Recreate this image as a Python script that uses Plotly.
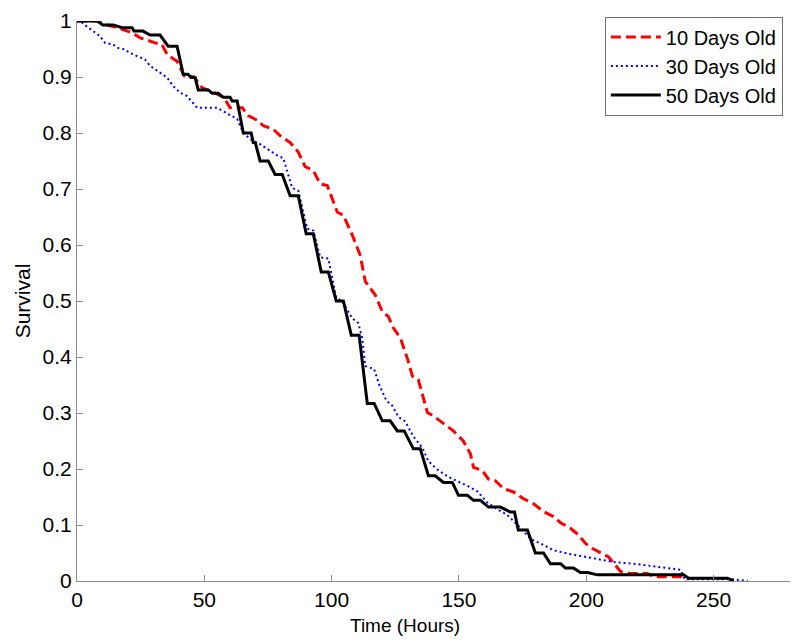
import plotly.graph_objects as go

# ---- data (time in hours, survival fraction) ----
t10 = [0, 7.9, 11.0, 15.7, 21.6, 24.8, 30.7, 33.4, 35.4, 39.3, 42.1, 46.0, 49.1, 53.9, 57.8,
       60.1, 64.9, 67.2, 71.1, 73.1, 77.0, 79.8, 83.7, 86.9, 89.6, 92.8, 95.5, 98.3, 102.2, 104.6,
       108.1, 111.2, 113.2, 115.2, 117.1, 119.9, 122.3, 124.2, 127.0, 129.7, 131.7, 134.0, 137.6,
       139.9, 143.9, 147.8, 151.7, 154.5, 155.7, 159.2, 161.6, 164.3, 167.5, 171.4, 175.3, 179.3,
       183.2, 187.1, 189.9, 193.8, 197.0, 199.7, 202.5, 206.4, 208.7, 211.5, 213.4, 217.3, 224.0,
       226.4, 237.0, 239.0]
s10 = [1.0, 1.0, 0.994, 0.988, 0.979, 0.970, 0.961, 0.958, 0.940, 0.928, 0.902, 0.900, 0.881,
       0.872, 0.863, 0.845, 0.845, 0.831, 0.822, 0.813, 0.807, 0.795, 0.783, 0.766, 0.740, 0.733,
       0.709, 0.706, 0.659, 0.653, 0.618, 0.582, 0.535, 0.523, 0.511, 0.481, 0.472, 0.452, 0.434,
       0.398, 0.366, 0.360, 0.301, 0.295, 0.282, 0.268, 0.250, 0.227, 0.203, 0.197, 0.182, 0.179,
       0.165, 0.159, 0.147, 0.138, 0.124, 0.115, 0.104, 0.094, 0.082, 0.067, 0.058, 0.049, 0.043,
       0.028, 0.017, 0.0136, 0.0136, 0.0076, 0.0076, 0.0]

t30 = [0, 1.2, 3.9, 6.3, 9.0, 11.0, 14.2, 16.1, 18.9, 20.8, 24.0, 26.7, 28.7, 31.4, 35.4, 37.7,
       40.5, 43.2, 45.6, 47.2, 55.0, 59.0, 62.9, 65.3, 69.2, 71.9, 75.1, 78.6, 81.0, 83.0, 84.5,
       86.9, 88.4, 90.4, 92.8, 95.5, 98.7, 100.6, 101.8, 104.2, 108.1, 110.4, 112.0, 113.2, 116.7,
       118.7, 121.5, 123.8, 126.2, 128.9, 132.1, 135.6, 138.0, 141.5, 145.4, 149.4, 153.3, 157.2,
       161.2, 165.1, 169.0, 174.1, 178.1, 182.0, 187.1, 192.6, 200.5, 206.8, 210.7, 220.1, 229.2,
       237.0, 238.6, 257.9, 263.4]
s30 = [1.0, 1.0, 0.990, 0.982, 0.973, 0.961, 0.958, 0.952, 0.949, 0.943, 0.937, 0.931, 0.920,
       0.911, 0.899, 0.884, 0.872, 0.866, 0.854, 0.845, 0.845, 0.835, 0.825, 0.800, 0.785, 0.780,
       0.770, 0.760, 0.755, 0.725, 0.702, 0.697, 0.670, 0.629, 0.626, 0.578, 0.576, 0.535, 0.506,
       0.499, 0.469, 0.461, 0.434, 0.384, 0.378, 0.350, 0.322, 0.313, 0.293, 0.285, 0.258, 0.238,
       0.214, 0.199, 0.187, 0.178, 0.170, 0.160, 0.140, 0.128, 0.118, 0.095, 0.075, 0.067, 0.055,
       0.049, 0.043, 0.037, 0.034, 0.030, 0.025, 0.020, 0.003, 0.003, 0.0]

t50 = [0, 7.9, 10.2, 14.2, 17.7, 21.6, 22.4, 25.9, 28.7, 32.6, 35.8, 39.3, 41.7, 43.6, 44.8, 46.4,
       47.6, 51.5, 53.1, 55.4, 57.4, 60.1, 60.9, 62.9, 65.3, 68.4, 69.2, 70.0, 71.9, 75.1, 77.8,
       80.6, 83.7, 86.9, 90.0, 92.8, 95.9, 98.7, 101.8, 104.6, 107.7, 110.8, 114.0, 116.7, 119.9,
       123.0, 125.8, 128.5, 132.1, 134.8, 138.0, 140.7, 143.9, 147.4, 149.8, 153.3, 155.7, 158.4,
       161.6, 166.3, 170.2, 171.8, 173.3, 176.9, 180.0, 183.2, 185.9, 189.9, 191.8, 195.0, 197.7,
       200.5, 204.4, 238.2, 240.2, 255.5, 257.9]
s50 = [1.0, 1.0, 0.993, 0.993, 0.988, 0.988, 0.982, 0.982, 0.975, 0.975, 0.955, 0.955, 0.905,
       0.905, 0.899, 0.899, 0.877, 0.877, 0.871, 0.871, 0.864, 0.864, 0.857, 0.857, 0.800, 0.800,
       0.783, 0.783, 0.750, 0.750, 0.726, 0.726, 0.688, 0.688, 0.620, 0.620, 0.552, 0.552, 0.500,
       0.500, 0.439, 0.439, 0.317, 0.317, 0.286, 0.286, 0.268, 0.268, 0.236, 0.236, 0.188, 0.188,
       0.176, 0.176, 0.153, 0.153, 0.144, 0.144, 0.132, 0.132, 0.123, 0.123, 0.091, 0.091, 0.050,
       0.050, 0.031, 0.031, 0.023, 0.023, 0.015, 0.015, 0.011, 0.011, 0.005, 0.005, 0.0]

series_names = ["10 Days Old", "30 Days Old", "50 Days Old"]
x_ticks = [0, 50, 100, 150, 200, 250]
y_ticks = [0, 0.1, 0.2, 0.3, 0.4, 0.5, 0.6, 0.7, 0.8, 0.9, 1]
y_tick_labels = ["0", "0.1", "0.2", "0.3", "0.4", "0.5", "0.6", "0.7", "0.8", "0.9", "1"]

FONT = "Liberation Sans, Arial, Helvetica, sans-serif"
AXIS_GRAY = "#8c8c8c"

fig = go.Figure()
fig.add_trace(go.Scatter(x=t10, y=s10, mode="lines", name=series_names[0],
                         line=dict(color="#ff0000", width=3, dash="10px,5px")))
fig.add_trace(go.Scatter(x=t30, y=s30, mode="lines", name=series_names[1],
                         line=dict(color="#0000ff", width=2, dash="2px,3px")))
fig.add_trace(go.Scatter(x=t50, y=s50, mode="lines", name=series_names[2],
                         line=dict(color="#000000", width=3)))

# the page adds an 8px body margin, so the figure is 8px smaller than the window
fig.update_layout(
    width=792, height=636,
    margin=dict(l=69, r=10, t=13, b=63, autoexpand=False),
    plot_bgcolor="white", paper_bgcolor="white",
    font=dict(family=FONT, size=21, color="black"),
    showlegend=True,
    legend=dict(x=0.990, y=0.9196, xanchor="right", yanchor="middle",
                bordercolor="#707070", borderwidth=1, bgcolor="white",
                font=dict(family=FONT, size=20, color="black"),
                tracegroupgap=0, itemwidth=50),
    hovermode=False,
    annotations=[dict(text="Time (Hours)", xref="paper", yref="paper", x=0.46, y=-0.0786,
                      xanchor="center", yanchor="middle", showarrow=False,
                      font=dict(family=FONT, size=19, color="black"))],
)
fig.update_xaxes(range=[0, 280], tickmode="array", tickvals=x_ticks, automargin=False,
                 ticklabeloverflow="allow",
                 showline=True, linecolor=AXIS_GRAY, linewidth=1,
                 ticks="inside", ticklen=6, tickcolor=AXIS_GRAY, tickwidth=1,
                 showgrid=False, zeroline=False,
                 tickfont=dict(family=FONT, size=21, color="black"))
fig.update_yaxes(range=[0, 1], tickmode="array", tickvals=y_ticks, ticktext=y_tick_labels,
                 automargin=False, ticklabeloverflow="allow",
                 showline=True, linecolor=AXIS_GRAY, linewidth=1,
                 ticks="inside", ticklen=6, tickcolor=AXIS_GRAY, tickwidth=1,
                 showgrid=False, zeroline=False,
                 tickfont=dict(family=FONT, size=21, color="black"),
                 title=dict(text="Survival", font=dict(family=FONT, size=21, color="black"),
                            standoff=6))

fig.write_html("out.html")
